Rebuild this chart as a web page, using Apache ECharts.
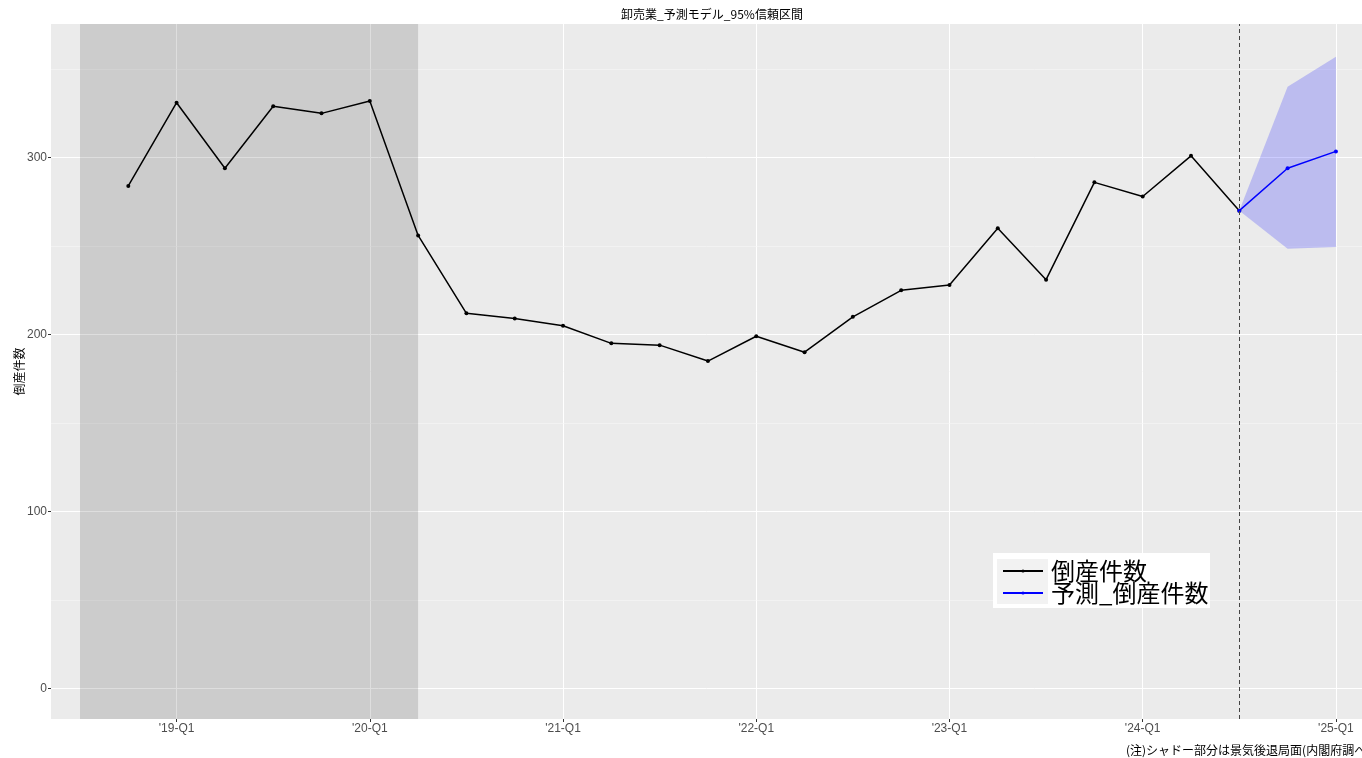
<!DOCTYPE html>
<html>
<head>
<meta charset="utf-8">
<script src="https://cdn.jsdelivr.net/npm/echarts@6/dist/echarts.min.js"></script>
<style>
  html, body { margin: 0; padding: 0; background: #ffffff; }
  #chart { width: 1362px; height: 758px; }
</style>
</head>
<body>
<div id="chart"></div>
<script>
// Wholesale sector: quarterly bankruptcy counts with a 95% forecast interval
const quarters = [
  '2018-Q4',
  '2019-Q1', '2019-Q2', '2019-Q3', '2019-Q4',
  '2020-Q1', '2020-Q2', '2020-Q3', '2020-Q4',
  '2021-Q1', '2021-Q2', '2021-Q3', '2021-Q4',
  '2022-Q1', '2022-Q2', '2022-Q3', '2022-Q4',
  '2023-Q1', '2023-Q2', '2023-Q3', '2023-Q4',
  '2024-Q1', '2024-Q2', '2024-Q3'
];
const counts = [
  284,
  331, 294, 329, 325,
  332, 256, 212, 209,
  205, 195, 194, 185,
  199, 190, 210, 225,
  228, 260, 231, 286,
  278, 301, 270
];

const forecastQuarters = ['2024-Q3', '2024-Q4', '2025-Q1'];
const forecastCounts = [270, 294, 303.5];
const forecastLower = [270, 248.5, 249.5];
const forecastUpper = [270, 340, 357];

// recession period (Cabinet Office) and forecast origin
const recession = ['2018-Q3', '2020-Q2'];
const forecastStart = '2024-Q3';

const xTicks = ['2019-Q1', '2020-Q1', '2021-Q1', '2022-Q1', '2023-Q1', '2024-Q1', '2025-Q1'];
const yTicks = [0, 100, 200, 300];
const yMinorTicks = [50, 150, 250, 350];

const seriesName = '倒産件数';
const forecastName = '予測_倒産件数';

// quarter string -> position on the x axis (2019-Q1 = 0)
function qIndex(q) {
  const parts = q.split('-Q');
  return (Number(parts[0]) - 2019) * 4 + (Number(parts[1]) - 1);
}
function qLabel(i) {
  const year = 2019 + Math.floor(i / 4);
  const q = ((i % 4) + 4) % 4 + 1;
  return "'" + String(year).slice(2) + '-Q' + q;
}

const FONT = '"Noto Sans CJK JP", "Noto Sans", sans-serif';
const TICK_FONT = '"Liberation Sans", "DejaVu Sans", sans-serif';
const chart = echarts.init(document.getElementById('chart'));

const actualData = quarters.map((q, i) => [qIndex(q), counts[i]]);
const forecastData = forecastQuarters.map((q, i) => [qIndex(q), forecastCounts[i]]);
const bandData = forecastQuarters.map((q, i) => [qIndex(q), forecastLower[i], forecastUpper[i]]);
const xTickValues = xTicks.map(qIndex);

chart.setOption({
  animation: false,
  textStyle: { fontFamily: FONT },
  title: [
    {
      text: '卸売業_予測モデル_95%信頼区間',
      left: 707,
      top: 3,
      textAlign: 'center',
      textStyle: { fontSize: 12, fontWeight: 'normal', color: '#000000', fontFamily: FONT }
    },
    {
      text: '(注)シャドー部分は景気後退局面(内閣府調べ)',
      left: 1121,
      top: 739,
      textStyle: { fontSize: 12, fontWeight: 'normal', color: '#000000', fontFamily: FONT }
    }
  ],
  grid: {
    left: 51,
    right: 0,
    top: 24,
    bottom: 39,
    outerBoundsMode: 'none',
    containLabel: false,
    show: true,
    backgroundColor: '#EBEBEB',
    borderWidth: 0
  },
  legend: {
    data: [seriesName, forecastName],
    orient: 'vertical',
    left: 1002,
    top: 559,
    itemWidth: 40,
    itemHeight: 4,
    itemGap: -2,
    padding: 0,
    textStyle: { fontSize: 24, lineHeight: 22, height: 22, color: '#000000', fontFamily: FONT, padding: [0, 0, 0, 3] }
  },
  graphic: [
    { type: 'rect', z: 3, silent: true, shape: { x: 993, y: 553, width: 217, height: 55 }, style: { fill: '#ffffff' } },
    { type: 'rect', z: 3, silent: true, shape: { x: 997, y: 559, width: 51, height: 45 }, style: { fill: '#F2F2F2' } }
  ],
  xAxis: {
    type: 'value',
    min: -2.6,
    max: 24.54,
    axisLine: { show: false, onZero: false },
    axisTick: { show: true, customValues: xTickValues, length: 3, lineStyle: { color: '#333333' } },
    axisLabel: {
      customValues: xTickValues,
      formatter: v => qLabel(v),
      fontSize: 12,
      color: '#4D4D4D',
      margin: 4,
      fontFamily: TICK_FONT
    },
    splitLine: { show: true, lineStyle: { color: '#ffffff', width: 1 } }
  },
  yAxis: {
    type: 'value',
    min: -17.3,
    max: 375.5,
    name: '倒産件数',
    nameLocation: 'middle',
    nameRotate: 90,
    nameGap: 26,
    nameMoveOverlap: false,
    nameTextStyle: { fontSize: 12, color: '#000000', fontFamily: FONT },
    axisLine: { show: false, onZero: false },
    axisTick: { show: true, customValues: yTicks, length: 3, lineStyle: { color: '#333333' } },
    axisLabel: { customValues: yTicks, fontSize: 12, color: '#4D4D4D', margin: 4, fontFamily: TICK_FONT },
    splitLine: { show: true, lineStyle: { color: '#ffffff', width: 1 } }
  },
  series: [
    {
      // minor horizontal gridlines
      type: 'line',
      data: [],
      z: 1,
      silent: true,
      markLine: {
        z: 1,
        silent: true,
        symbol: ['none', 'none'],
        label: { show: false },
        lineStyle: { color: '#F7F7F7', width: 0.6, type: 'solid' },
        data: yMinorTicks.map(v => ({ yAxis: v }))
      }
    },
    {
      // recession shading and forecast origin
      type: 'line',
      data: [],
      z: 2,
      silent: true,
      markArea: {
        z: 2,
        silent: true,
        itemStyle: { color: 'rgba(0,0,0,0.13)' },
        data: [[{ xAxis: qIndex(recession[0]) }, { xAxis: qIndex(recession[1]) }]]
      },
      markLine: {
        silent: true,
        symbol: ['none', 'none'],
        label: { show: false },
        lineStyle: { color: '#444444', width: 1, type: [4, 3] },
        data: [{ xAxis: qIndex(forecastStart) }]
      }
    },
    {
      // 95% interval band
      type: 'custom',
      silent: true,
      z: 3,
      data: bandData,
      renderItem: function (params, api) {
        if (params.dataIndex !== 0) return;
        const upper = bandData.map(d => api.coord([d[0], d[2]]));
        const lower = bandData.slice().reverse().map(d => api.coord([d[0], d[1]]));
        return {
          type: 'polygon',
          shape: { points: upper.concat(lower) },
          style: { fill: 'rgba(0,0,255,0.2)' }
        };
      }
    },
    {
      name: seriesName,
      type: 'line',
      z: 4,
      data: actualData,
      symbol: 'circle',
      symbolSize: 4,
      showSymbol: true,
      itemStyle: { color: '#000000' },
      lineStyle: { color: '#000000', width: 1.5 }
    },
    {
      name: forecastName,
      type: 'line',
      z: 4,
      data: forecastData,
      symbol: 'circle',
      symbolSize: 4,
      showSymbol: true,
      itemStyle: { color: '#0000FF' },
      lineStyle: { color: '#0000FF', width: 1.5 }
    }
  ]
});
</script>
</body>
</html>
